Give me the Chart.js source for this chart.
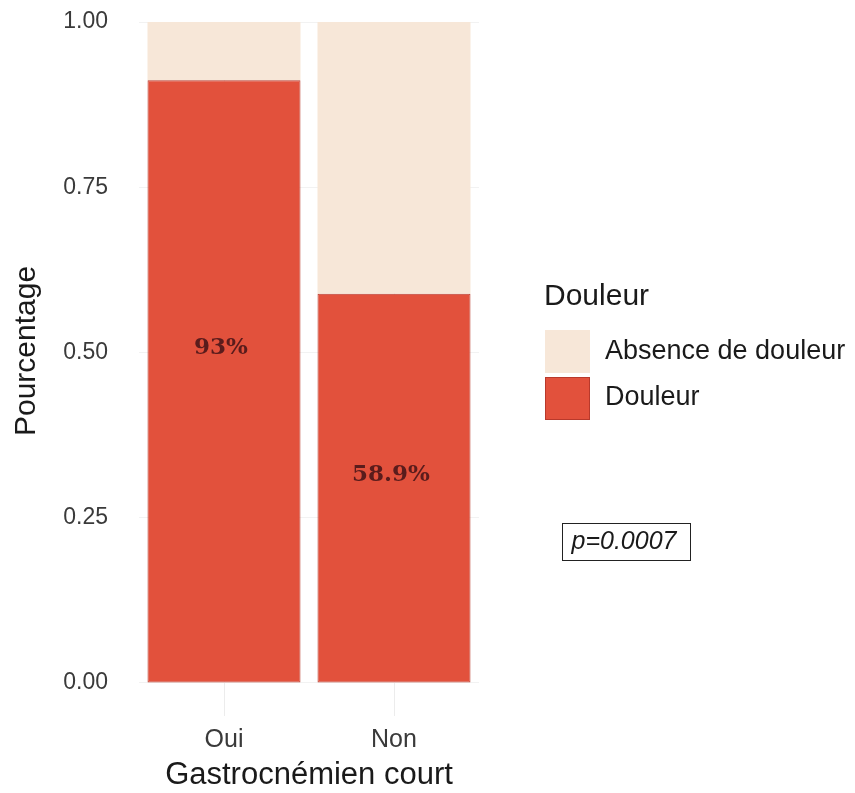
<!DOCTYPE html>
<html>
<head>
<meta charset="utf-8">
<script src="https://cdn.jsdelivr.net/npm/chart.js@4.4.1/dist/chart.umd.min.js"></script>
<style>
  html, body { margin: 0; padding: 0; background: #fff; }
  #wrap { width: 855px; height: 793px; }
</style>
</head>
<body>
<div id="wrap"><canvas id="painChart" width="855" height="793"></canvas></div>
<script>
// Data
const categories = ['Oui', 'Non'];
const douleur = [0.912, 0.589];
const absence = [0.088, 0.411];
const barLabels = ['93%', '58.9%'];
const barLabelY = [0.507, 0.315];
const yTicks = [0, 0.25, 0.5, 0.75, 1];
const pValue = 'p=0.0007';

const RED = '#e2513c';
const BEIGE = '#f7e7d8';

// Percentage labels inside the bars
const barLabelPlugin = {
    id: 'barLabels',
    afterDatasetsDraw(chart) {
        const ctx = chart.ctx;
        const x = chart.scales.x, y = chart.scales.y;
        ctx.save();
        ctx.font = 'bold 23px "DejaVu Serif"';
        ctx.fillStyle = '#5a1c1c';
        ctx.textAlign = 'center';
        ctx.textBaseline = 'middle';
        barLabels.forEach((t, i) => {
            ctx.fillText(t, x.getPixelForValue(i) - 3, y.getPixelForValue(barLabelY[i]));
        });
        ctx.restore();
    }
};

// ggplot-style legend, y title (centred on the full panel) and p-value box
const sideLegendPlugin = {
    id: 'sideLegend',
    afterDraw(chart) {
        const ctx = chart.ctx;
        ctx.save();
        ctx.textBaseline = 'middle';
        ctx.fillStyle = '#1a1a1a';

        ctx.save();
        ctx.translate(27, 351);
        ctx.rotate(-Math.PI / 2);
        ctx.textAlign = 'center';
        ctx.font = '30px "Liberation Sans"';
        ctx.fillText('Pourcentage', 0, 0);
        ctx.restore();

        ctx.font = '30px "Liberation Sans"';
        ctx.fillText('Douleur', 544, 297);

        ctx.fillStyle = BEIGE;
        ctx.fillRect(545, 330, 45, 43);
        ctx.fillStyle = RED;
        ctx.fillRect(545, 377, 45, 43);
        ctx.strokeStyle = '#b8392b';
        ctx.lineWidth = 1;
        ctx.strokeRect(545.5, 377.5, 44, 42);

        ctx.fillStyle = '#1a1a1a';
        ctx.font = '27px "Liberation Sans"';
        ctx.fillText('Absence de douleur', 605, 352);
        ctx.fillText('Douleur', 605, 398);

        ctx.strokeStyle = '#222';
        ctx.strokeRect(562.5, 523.5, 128, 37);
        ctx.font = 'italic 25px "Liberation Sans"';
        ctx.textAlign = 'center';
        ctx.fillText(pValue, 624, 542);
        ctx.restore();
    }
};

const ctx = document.getElementById('painChart').getContext('2d');
const painChart = new Chart(ctx, {
    type: 'bar',
    data: {
        labels: categories,
        datasets: [{
            label: 'Douleur',
            data: douleur,
            backgroundColor: RED,
            borderColor: '#b8392b',
            borderWidth: 1,
            borderSkipped: false,
            categoryPercentage: 0.9,
            barPercentage: 1
        }, {
            label: 'Absence de douleur',
            data: absence,
            backgroundColor: BEIGE,
            borderWidth: 0,
            categoryPercentage: 0.9,
            barPercentage: 1
        }]
    },
    options: {
        responsive: false,
        animation: false,
        layout: { padding: { top: 22, right: 376, left: 0, bottom: 0 } },
        plugins: {
            legend: { display: false },
            tooltip: { enabled: false }
        },
        scales: {
            x: {
                stacked: true,
                grid: { offset: false, color: '#ececec', drawTicks: false },
                border: { display: false },
                ticks: {
                    padding: 9,
                    color: '#3a3a3a',
                    font: { family: 'Liberation Sans', size: 25 }
                },
                title: {
                    display: true,
                    text: 'Gastrocnémien court',
                    color: '#1a1a1a',
                    font: { family: 'Liberation Sans', size: 31, lineHeight: 1.1 },
                    padding: { top: 0, bottom: 0 }
                },
                afterFit(scale) {
                    scale.height = 77;
                    scale.paddingLeft = 0;
                    scale.paddingRight = 0;
                }
            },
            y: {
                stacked: true,
                min: -0.05,
                max: 1,
                afterBuildTicks(scale) {
                    scale.ticks = yTicks.map(v => ({ value: v }));
                },
                grid: { color: '#f2f2f2', drawTicks: false },
                border: { display: false },
                ticks: {
                    padding: 31,
                    color: '#3a3a3a',
                    font: { family: 'Liberation Sans', size: 23 },
                    callback: v => Number(v).toFixed(2)
                },
                title: { display: false },
                afterFit(scale) {
                    scale.width = 139;
                    scale.paddingTop = 0;
                    scale.paddingBottom = 0;
                }
            }
        }
    },
    plugins: [barLabelPlugin, sideLegendPlugin]
});
</script>
</body>
</html>
